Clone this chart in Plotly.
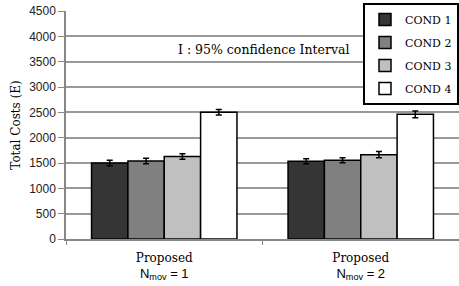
import plotly.graph_objects as go

categories = ["g1", "g2"]
tick_labels = ["Proposed<br><span style='font-family:Liberation Sans;font-size:13px'>N<sub>mov</sub> = 1</span>",
               "Proposed<br><span style='font-family:Liberation Sans;font-size:13px'>N<sub>mov</sub> = 2</span>"]
series_names = ["COND 1", "COND 2", "COND 3", "COND 4"]
cond1 = [1500, 1535]
cond2 = [1540, 1555]
cond3 = [1630, 1665]
cond4 = [2500, 2460]
err1 = [55, 50]
err2 = [55, 50]
err3 = [55, 60]
err4 = [55, 65]
colors = ["#353535", "#808080", "#c0c0c0", "#ffffff"]

serif = "DejaVu Serif"
fig = go.Figure()
for name, vals, errs, col in zip(series_names, [cond1, cond2, cond3, cond4],
                                 [err1, err2, err3, err4], colors):
    fig.add_trace(go.Bar(
        x=categories, y=vals, name=name, legendgroup=name,
        marker=dict(color=col, line=dict(color="#000000", width=1.5)),
        error_y=dict(type="data", array=errs, color="#000000", thickness=1.5, width=3),
    ))

fig.update_layout(
    width=459, height=286,
    margin=dict(l=66, r=0, t=11, b=47, autoexpand=False),
    plot_bgcolor="white", paper_bgcolor="white",
    barmode="group", bargap=0.26, bargroupgap=0,
    showlegend=True,
    legend=dict(x=(363 - 66) / (459 - 66), y=1.035, xanchor="left", yanchor="top",
                bordercolor="#000000", borderwidth=2, bgcolor="white",
                font=dict(family=serif, size=11, color="#000000"),
                traceorder="grouped", tracegroupgap=4),
    font=dict(family="Liberation Sans", size=12, color="#222222"),
    annotations=[dict(text="I : 95% confidence Interval", x=(263 - 66) / (459 - 66),
                      y=3750, xref="paper", yref="y", showarrow=False,
                      font=dict(family=serif, size=12.5, color="#000000"))],
)
fig.update_xaxes(tickvals=categories, ticktext=tick_labels, tickson="boundaries",
                 ticks="outside", ticklen=4, tickcolor="#888888",
                 showline=True, linecolor="#888888", linewidth=1.5,
                 tickfont=dict(family=serif, size=12, color="#000000"),
                 ticklabelstandoff=7, showgrid=False)
fig.update_yaxes(range=[0, 4500], dtick=500, ticks="outside", ticklen=6,
                 tickcolor="#888888", showline=True, linecolor="#888888",
                 linewidth=1.5, gridcolor="#999999", gridwidth=1.5,
                 tickfont=dict(family="Liberation Sans", size=12, color="#222222"),
                 title=dict(text="Total Costs (E)", standoff=6,
                            font=dict(family=serif, size=12, color="#000000")),
                 zeroline=False)
fig.write_html("out.html", post_script="document.body.style.margin='0';",
               config={"displayModeBar": False})
